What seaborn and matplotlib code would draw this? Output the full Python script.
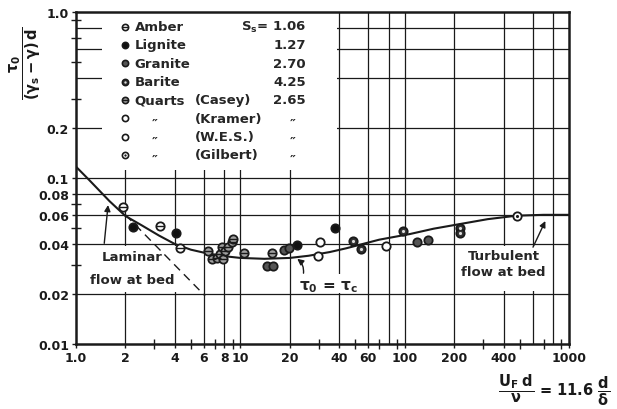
import numpy as np
import pandas as pd
import matplotlib
matplotlib.use("Agg")
import matplotlib.pyplot as plt
import seaborn as sns
from matplotlib.patches import Rectangle

# Shields curve: critical shear parameter vs. boundary Reynolds number
curve_re = [1.0, 1.2, 1.6, 2.0, 2.5, 3.2, 4.0, 5.0, 6.0, 8.0, 10, 14, 20, 26,
            35, 44, 70, 108, 150, 217, 320, 480, 700, 1000]
curve_tau = [0.117, 0.0975, 0.0725, 0.059, 0.052, 0.045, 0.040, 0.037, 0.0355,
             0.0338, 0.0330, 0.0326, 0.0330, 0.0340, 0.0358, 0.0377, 0.0425,
             0.046, 0.0495, 0.0528, 0.0565, 0.0593, 0.0600, 0.0600]

# laminar asymptote (dashed)
laminar_re = [2.0, 6.1]
laminar_tau = [0.060, 0.0195]

# experimental points per material / source
amber_re = [1.92, 3.26, 4.31]
amber_tau = [0.0671, 0.0517, 0.0379]
lignite_re = [2.21, 4.06, 22.0, 37.7]
lignite_tau = [0.0509, 0.0466, 0.0395, 0.0498]
granite_re = [14.6, 15.7, 18.5, 19.9, 119, 139]
granite_tau = [0.0296, 0.0296, 0.0370, 0.0377, 0.0413, 0.0425]
barite_re = [48.3, 54.3, 98.2, 217, 217]
barite_tau = [0.0416, 0.0374, 0.0481, 0.0498, 0.0464]
casey_re = [6.39, 6.7, 7.18, 7.52, 7.7, 7.88, 8.07, 8.45, 8.86, 9.05, 10.58, 15.5]
casey_tau = [0.0365, 0.0325, 0.0328, 0.0348, 0.0382, 0.0325, 0.0365, 0.0382,
             0.0410, 0.0429, 0.0353, 0.0353]
kramer_re = [29.6, 30.5]
kramer_tau = [0.0338, 0.0413]
wes_re = [77.1]
wes_tau = [0.0388]
gilbert_re = [481]
gilbert_tau = [0.0593]

# legend table
legend_names = ["Amber", "Lignite", "Granite", "Barite", "Quarts", "\u2033", "\u2033", "\u2033"]
legend_sources = ["", "", "", "", "(Casey)", "(Kramer)", "(W.E.S.)", "(Gilbert)"]
legend_ss = ["1.06", "1.27", "2.70", "4.25", "2.65", "\u2033", "\u2033", "\u2033"]

x_ticks = [1, 2, 4, 6, 8, 10, 20, 40, 60, 100, 200, 400, 1000]
x_tick_labels = ["1.0", "2", "4", "6", "8", "10", "20", "40", "60", "100", "200", "400", "1000"]
x_grid = [2, 4, 6, 8, 10, 20, 40, 60, 80, 100, 200, 400, 600, 800]
x_minor = [3, 5, 7, 9, 30, 50, 70, 90, 300, 500, 700, 900]
y_ticks = [0.01, 0.02, 0.04, 0.06, 0.08, 0.1, 0.2, 1.0]
y_tick_labels = ["0.01", "0.02", "0.04", "0.06", "0.08", "0.1", "0.2", "1.0"]
y_grid = [0.02, 0.04, 0.06, 0.08, 0.1, 0.2, 0.4, 0.6, 0.8]
y_minor = [0.03, 0.05, 0.07, 0.3, 0.5, 0.7, 0.9]

sns.set_style("white")
plt.rcParams["font.family"] = ["DejaVu Sans"]
plt.rcParams["font.weight"] = "bold"
plt.rcParams["mathtext.fontset"] = "dejavusans"
plt.rcParams["mathtext.default"] = "regular"

INK = "#1a1a1a"
fig = plt.figure(figsize=(6.17, 4.10), dpi=100)
ax = fig.add_axes([76 / 617, 1 - 345 / 410, 493 / 617, 332 / 410])
ax.set_xscale("log")
ax.set_yscale("log")
ax.set_xlim(1, 1000)
ax.set_ylim(0.01, 1.0)
ax.set_axisbelow(True)

# grid
for gx in x_grid:
    ax.axvline(gx, color=INK, lw=0.9, zorder=0.5)
for gy in y_grid:
    ax.axhline(gy, color=INK, lw=0.9, zorder=0.5)

# white panels behind legend and labels
ax.add_patch(Rectangle((1.44, 0.1117), 38.6 - 1.44, 1.0 - 0.1117,
                       facecolor="white", edgecolor="none", zorder=1))
ax.add_patch(Rectangle((1.62, 0.0205), 4.3 - 1.62, 0.0392 - 0.0205,
                       facecolor="white", edgecolor="none", zorder=1))
ax.add_patch(Rectangle((212, 0.0208), 735 - 212, 0.0392 - 0.0208,
                       facecolor="white", edgecolor="none", zorder=1))
ax.add_patch(Rectangle((36, 0.0204), 44 - 36, 0.0265 - 0.0204,
                       facecolor="white", edgecolor="none", zorder=1))

# curves
sns.lineplot(x=curve_re, y=curve_tau, ax=ax, color=INK, lw=1.5,
             sort=False, estimator=None, zorder=3)
sns.lineplot(x=laminar_re, y=laminar_tau, ax=ax, color=INK, lw=1.0,
             sort=False, estimator=None, zorder=3)
ax.lines[-1].set_dashes([6, 4])

styles = {
    "Amber": dict(face="white", over="_"),
    "Lignite": dict(face="#111111", over=None),
    "Granite": dict(face="#555555", over=None),
    "Barite": dict(face="#333333", over="w."),
    "Casey": dict(face="#a0a0a0", over="_"),
    "Kramer": dict(face="white", over=None),
    "W.E.S.": dict(face="white", over=None),
    "Gilbert": dict(face="white", over="k."),
}
series = [("Amber", amber_re, amber_tau), ("Lignite", lignite_re, lignite_tau),
          ("Granite", granite_re, granite_tau), ("Barite", barite_re, barite_tau),
          ("Casey", casey_re, casey_tau), ("Kramer", kramer_re, kramer_tau),
          ("W.E.S.", wes_re, wes_tau), ("Gilbert", gilbert_re, gilbert_tau)]


def overlay(xs, ys, st, size, **kw):
    if st["over"] == "_":
        ax.scatter(xs, ys, s=size * 0.75, marker="_", color=INK, linewidth=1.0,
                   zorder=5, clip_on=False, **kw)
    elif st["over"] in ("w.", "k."):
        col = "#dddddd" if st["over"] == "w." else INK
        ax.scatter(xs, ys, s=size * 0.14, marker="o", color=col, linewidth=0,
                   zorder=5, clip_on=False, **kw)


for name, xs, ys in series:
    st = styles[name]
    df = pd.DataFrame({"re": xs, "tau": ys})
    sns.scatterplot(data=df, x="re", y="tau", ax=ax, marker="o", s=36,
                    color=st["face"], edgecolor=INK, linewidth=1.3, zorder=4)
    overlay(xs, ys, st, 36)

# legend table
row0, step = (345 - 27.7) / 332, 18.3 / 332
fs = 9.5
for i, (nm, src, ss) in enumerate(zip(legend_names, legend_sources, legend_ss)):
    yy = row0 - i * step
    st = list(styles.values())[i]
    ax.scatter([0.0994], [yy], s=20, marker="o", facecolor=st["face"], edgecolor=INK,
               linewidth=1.2, zorder=4, transform=ax.transAxes, clip_on=False)
    overlay([0.0994], [yy], st, 20, transform=ax.transAxes)
    if i < 5:
        ax.text(0.119, yy, nm, transform=ax.transAxes, ha="left", va="center",
                fontsize=fs, zorder=6)
    else:
        ax.text(0.16, yy - 0.014, nm, transform=ax.transAxes, ha="center",
                va="center", fontsize=fs, zorder=6)
    if src:
        ax.text(0.241, yy, src, transform=ax.transAxes, ha="left", va="center",
                fontsize=fs, zorder=6)
    if i == 0:
        ax.text(0.4665, yy, r"S$_s$= " + ss, transform=ax.transAxes,
                ha="right", va="center", fontsize=fs, zorder=6)
    elif i < 5:
        ax.text(0.4665, yy, ss, transform=ax.transAxes, ha="right", va="center",
                fontsize=fs, zorder=6)
    else:
        ax.text(0.44, yy - 0.014, ss, transform=ax.transAxes, ha="center",
                va="center", fontsize=fs, zorder=6)

# annotations
ax.text(2.2, 0.0285, "Laminar\nflow at bed", ha="center", va="center",
        fontsize=fs, linespacing=2.0, zorder=6)
ax.annotate("", xy=(1.573, 0.0714), xytext=(1.48, 0.0389),
            arrowprops=dict(arrowstyle="-|>", color=INK, lw=1.0,
                            mutation_scale=9), zorder=6)
ax.text(34.2, 0.0222, r"$\tau_0$ = $\tau_c$", ha="center", va="center",
        fontsize=11, zorder=6)
ax.annotate("", xy=(21.5, 0.0333), xytext=(24.1, 0.0257),
            arrowprops=dict(arrowstyle="-|>", color=INK, lw=1.0, mutation_scale=9,
                            connectionstyle="arc3,rad=0.35"), zorder=6)
ax.text(400, 0.0305, "Turbulent\nflow at bed", ha="center", va="center",
        fontsize=fs, linespacing=1.25, zorder=6)
ax.annotate("", xy=(730, 0.057), xytext=(594, 0.037),
            arrowprops=dict(arrowstyle="-|>", color=INK, lw=1.0,
                            mutation_scale=9), zorder=6)

# axes styling
ax.set_xticks(x_ticks)
ax.set_xticklabels(x_tick_labels)
ax.set_xticks(x_minor, minor=True)
ax.set_xticklabels([], minor=True)
ax.set_yticks(y_ticks)
ax.set_yticklabels(y_tick_labels)
ax.set_yticks(y_minor, minor=True)
ax.set_yticklabels([], minor=True)
ax.tick_params(axis="both", which="both", bottom=True, left=True, top=False,
               right=False)
ax.tick_params(axis="both", which="major", direction="out", length=3, width=1.0,
               color=INK, labelsize=9, pad=2, labelcolor=INK)
ax.tick_params(axis="both", which="minor", direction="inout", length=7, width=1.0,
               color=INK)
for sp in ax.spines.values():
    sp.set_linewidth(1.8)
    sp.set_color(INK)
    sp.set_visible(True)
    sp.set_zorder(7)
ax.set_xlabel("")
ax.set_ylabel("")

fig.text(25 / 617, 1 - 63 / 410, r"$\dfrac{\tau_0}{(\gamma_s - \gamma)\,d}$",
         rotation=90, ha="center", va="center", fontsize=10.5, color=INK)
fig.text(610 / 617, 1 - 390 / 410, r"$\dfrac{U_F\;d}{\nu}$ = 11.6 $\dfrac{d}{\delta}$",
         ha="right", va="center", fontsize=10.5, color=INK)

fig.savefig("out.png", dpi=100, facecolor="white")
